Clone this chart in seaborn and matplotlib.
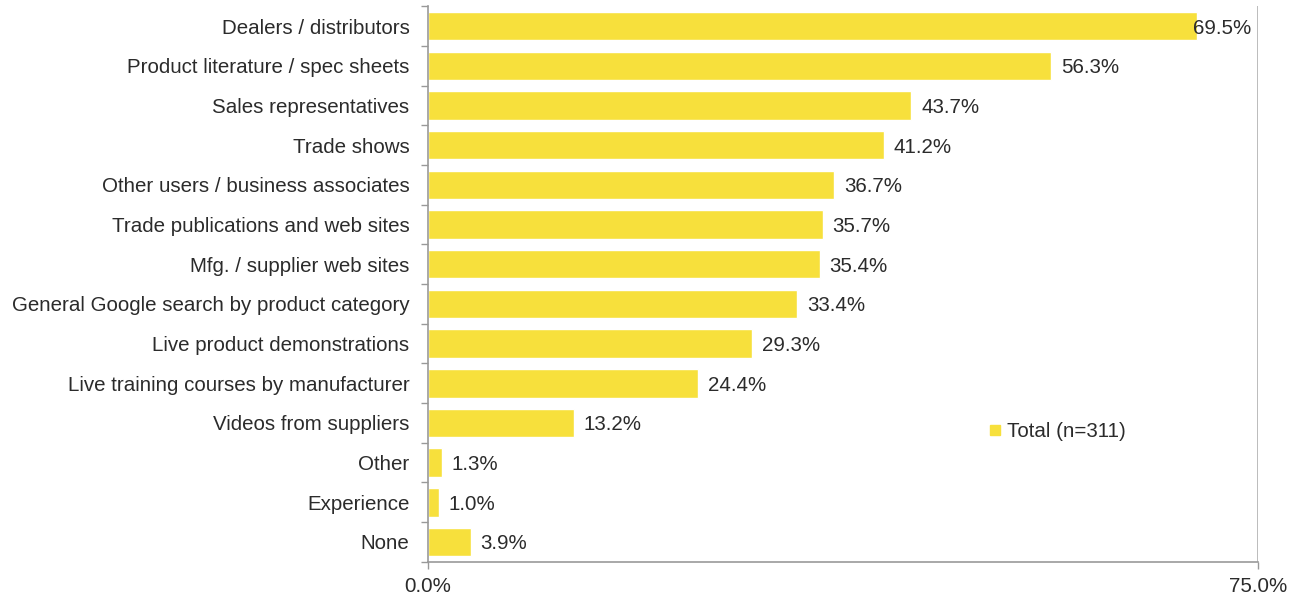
import matplotlib
matplotlib.use("Agg")
import matplotlib.pyplot as plt
import seaborn as sns
import pandas as pd
from matplotlib.lines import Line2D

categories = [
    "Dealers / distributors",
    "Product literature / spec sheets",
    "Sales representatives",
    "Trade shows",
    "Other users / business associates",
    "Trade publications and web sites",
    "Mfg. / supplier web sites",
    "General Google search by product category",
    "Live product demonstrations",
    "Live training courses by manufacturer",
    "Videos from suppliers",
    "Other",
    "Experience",
    "None",
]
values = [69.5, 56.3, 43.7, 41.2, 36.7, 35.7, 35.4, 33.4, 29.3, 24.4, 13.2, 1.3, 1.0, 3.9]
series_name = "Total (n=311)"
x_ticks = [0.0, 75.0]

df = pd.DataFrame({"source": categories, "pct": values})

sns.set_theme(style="white")
plt.rcParams["font.family"] = ["Liberation Sans", "DejaVu Sans"]

bar_color = "#F7E03C"
text_color = "#2b2b2b"
fs = 14.8

fig = plt.figure(figsize=(12.96, 5.98), dpi=100)
ax = fig.add_axes([0.330, 0.0605, 0.6407, 0.929])

sns.barplot(data=df, x="pct", y="source", orient="h", color=bar_color,
            width=0.72, saturation=1, ax=ax)

ax.set_xlim(0, 75)
ax.set_ylim(len(categories) - 0.5, -0.5)
ax.set_xticks(x_ticks)
ax.set_xticklabels([f"{t:.1f}%" for t in x_ticks], fontsize=fs, color=text_color)
ax.set_xlabel("")
ax.set_ylabel("")
ax.tick_params(axis="y", labelsize=fs, labelcolor=text_color, length=0, pad=13)
ax.tick_params(axis="x", length=5, width=1, color="#999999", pad=6, bottom=True)

# Minor tick marks between categories on the value axis
ax.set_yticks([i + 0.5 for i in range(-1, len(categories))], minor=True)
ax.tick_params(axis="y", which="minor", length=5, width=1, color="#999999", left=True)

# Vertical gridline at the axis maximum
ax.axvline(75, color="#b0b0b0", lw=1.2, zorder=0)

for side in ("top", "right"):
    ax.spines[side].set_visible(False)
for side in ("left", "bottom"):
    ax.spines[side].set_color("#999999")
    ax.spines[side].set_linewidth(1.2)

# Value labels at bar ends
for i, v in enumerate(values):
    off = -3 if v == max(values) else 7
    ax.annotate(f"{v:.1f}%", xy=(v, i), xytext=(off, 0), textcoords="offset points",
                va="center_baseline", ha="left", fontsize=fs, color=text_color)

handle = Line2D([], [], marker="s", linestyle="none", markersize=7,
                markerfacecolor=bar_color, markeredgecolor=bar_color)
ax.legend([handle], [series_name], loc="upper left", bbox_to_anchor=(0.648, 0.285),
          frameon=False, fontsize=fs, handletextpad=0.1, handlelength=1.0,
          labelcolor=text_color)

fig.savefig("out.png", dpi=100)
